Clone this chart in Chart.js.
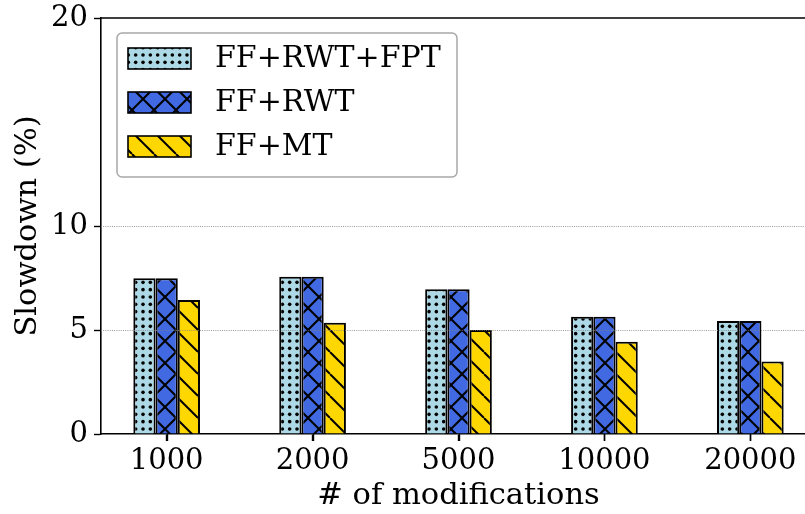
<!DOCTYPE html>
<html lang="en">
<head>
<meta charset="UTF-8">
<title>Slowdown vs number of modifications</title>
<script src="https://cdn.jsdelivr.net/npm/chart.js"></script>
<style>
  html, body { margin: 0; padding: 0; overflow: hidden; background: #fff; }
</style>
</head>
<body>
<canvas id="myChart" width="817" height="514"></canvas>
<script>
// data
const categories = ['1000', '2000', '5000', '10000', '20000'];
const seriesNames = ['FF+RWT+FPT', 'FF+RWT', 'FF+MT'];
const rwtFpt = [7.49, 7.56, 6.96, 5.64, 5.43];
const rwt = [7.49, 7.56, 6.96, 5.64, 5.43];
const mt = [6.44, 5.35, 5.00, 4.44, 3.49];
const yTicks = [0, 5, 10, 20];

const FONT = 'DejaVu Serif';
const ctx = document.getElementById('myChart').getContext('2d');

// matplotlib-like hatches
function makeHatch(kind, fill) {
    const s = 22;
    const c = document.createElement('canvas');
    c.width = s; c.height = s;
    const g = c.getContext('2d');
    g.fillStyle = fill;
    g.fillRect(0, 0, s, s);
    g.strokeStyle = '#000';
    g.fillStyle = '#000';
    g.lineWidth = 2;
    if (kind === 'dots') {
        const step = s / 3;
        for (let i = 0; i < 3; i++) {
            for (let j = 0; j < 3; j++) {
                g.beginPath();
                g.arc(step * (i + 0.5), step * (j + 0.5), 1.8, 0, Math.PI * 2);
                g.fill();
            }
        }
    } else {
        const dirs = kind === 'cross' ? [1, -1] : [1];
        dirs.forEach(d => {
            for (let k = -1; k <= 1; k++) {
                g.beginPath();
                if (d === 1) { g.moveTo(k * s, 0); g.lineTo(k * s + s, s); }
                else { g.moveTo(k * s + s, 0); g.lineTo(k * s, s); }
                g.stroke();
            }
        });
    }
    return ctx.createPattern(c, 'repeat');
}

const fills = [
    makeHatch('dots', '#add8e6'),
    makeHatch('cross', '#4169e1'),
    makeHatch('back', '#ffd700')
];

const toPoints = arr => arr.map((v, i) => ({ x: i, y: v }));

// dotted grid lines on top of bars, x tick marks, top/right spines
const overlay = {
    id: 'overlay',
    afterDatasetsDraw(chart) {
        const { ctx, chartArea: a, scales: { x, y } } = chart;
        ctx.save();
        ctx.strokeStyle = '#808080';
        ctx.lineWidth = 0.8;
        ctx.setLineDash([1, 1.2]);
        yTicks.forEach(v => {
            if (v <= y.min || v >= y.max) return;
            const py = Math.round(y.getPixelForValue(v)) + 0.5;
            ctx.beginPath();
            ctx.moveTo(a.left, py);
            ctx.lineTo(a.right, py);
            ctx.stroke();
        });
        ctx.setLineDash([]);
        ctx.strokeStyle = '#000';
        ctx.lineWidth = 1.4;
        categories.forEach((c, i) => {
            const px = Math.round(x.getPixelForValue(i)) + 0.5;
            ctx.beginPath();
            ctx.moveTo(px, a.bottom);
            ctx.lineTo(px, a.bottom + 7);
            ctx.stroke();
        });
        ctx.lineWidth = 1.6;
        ctx.beginPath();
        ctx.moveTo(a.left, a.top);
        ctx.lineTo(a.right, a.top);
        ctx.lineTo(a.right, a.bottom);
        ctx.stroke();
        ctx.restore();
    }
};

// legend box in the upper left of the axes
const legendBox = {
    id: 'legendBox',
    afterDraw(chart) {
        const { ctx, chartArea: a } = chart;
        const x0 = a.left + 16, y0 = a.top + 15, w = 340, h = 144;
        ctx.save();
        ctx.beginPath();
        ctx.roundRect(x0, y0, w, h, 5);
        ctx.fillStyle = 'rgba(255,255,255,0.85)';
        ctx.fill();
        ctx.strokeStyle = '#a8a8a8';
        ctx.lineWidth = 1.5;
        ctx.stroke();
        chart.data.datasets.forEach((ds, i) => {
            const py = y0 + 15 + i * 44;
            ctx.fillStyle = ds.backgroundColor;
            ctx.fillRect(x0 + 11, py, 63, 21);
            ctx.strokeStyle = '#000';
            ctx.lineWidth = 1.6;
            ctx.strokeRect(x0 + 11, py, 63, 21);
            ctx.fillStyle = '#000';
            ctx.font = '30px "' + FONT + '"';
            ctx.textBaseline = 'middle';
            ctx.textAlign = 'left';
            ctx.fillText(ds.label, x0 + 98, py + 11);
        });
        ctx.restore();
    }
};

new Chart(ctx, {
    type: 'bar',
    data: {
        datasets: [
            { label: seriesNames[0], data: toPoints(rwtFpt), backgroundColor: fills[0] },
            { label: seriesNames[1], data: toPoints(rwt), backgroundColor: fills[1] },
            { label: seriesNames[2], data: toPoints(mt), backgroundColor: fills[2] }
        ]
    },
    options: {
        responsive: false,
        animation: false,
        layout: { padding: { left: 0, top: 18, right: 1, bottom: 0 } },
        datasets: {
            bar: {
                borderColor: '#000',
                borderWidth: 2,
                categoryPercentage: 0.457,
                barPercentage: 1
            }
        },
        plugins: {
            legend: { display: false },
            tooltip: { enabled: false }
        },
        scales: {
            x: {
                type: 'linear',
                min: -0.45,
                max: 4.45,
                offset: false,
                afterBuildTicks: s => { s.ticks = categories.map((c, i) => ({ value: i })); },
                afterFit: s => { s.height = 80; s.paddingLeft = 0; s.paddingRight = 0; },
                ticks: {
                    callback: v => categories[v],
                    color: '#000',
                    padding: 3,
                    maxRotation: 0,
                    autoSkip: false,
                    font: { family: FONT, size: 29 }
                },
                grid: { offset: false, drawOnChartArea: false, drawTicks: true, tickLength: 7, tickColor: '#000', tickWidth: 1.4 },
                border: { display: true, color: '#000', width: 1.6 },
                title: {
                    display: true,
                    text: '# of modifications',
                    color: '#000',
                    padding: { top: 0, bottom: 0 },
                    font: { family: FONT, size: 30.5 }
                }
            },
            y: {
                min: 0,
                max: 20,
                afterBuildTicks: s => { s.ticks = yTicks.map(v => ({ value: v })); },
                afterFit: s => { s.width = 101; s.paddingTop = 0; s.paddingBottom = 0; },
                ticks: {
                    color: '#000',
                    padding: 6,
                    font: { family: FONT, size: 29 }
                },
                grid: { drawOnChartArea: false, drawTicks: true, tickLength: 7, tickColor: '#000', tickWidth: 1.4 },
                border: { display: true, color: '#000', width: 1.6 },
                title: {
                    display: true,
                    text: 'Slowdown (%)',
                    color: '#000',
                    padding: { top: 10, bottom: 0 },
                    font: { family: FONT, size: 30.5 }
                }
            }
        }
    },
    plugins: [overlay, legendBox]
});
</script>
</body>
</html>
